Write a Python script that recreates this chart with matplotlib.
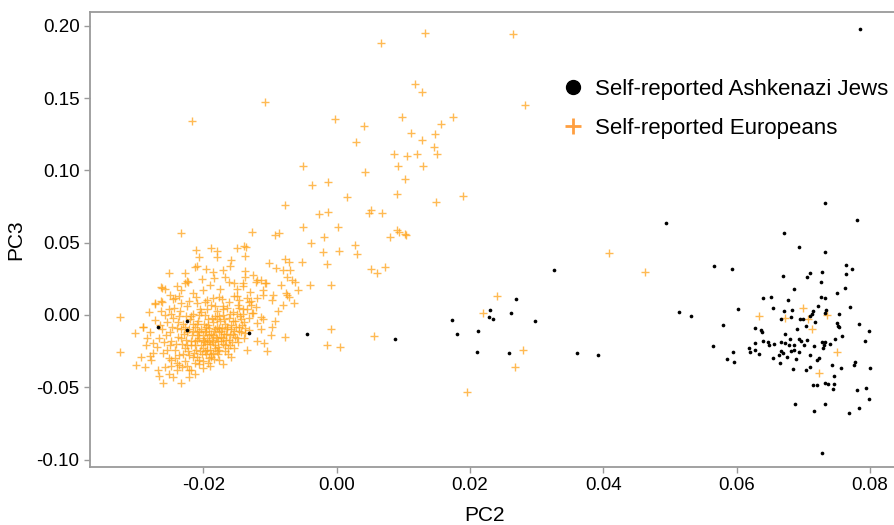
import numpy as np
import matplotlib
matplotlib.use('Agg')
import matplotlib.pyplot as plt
from matplotlib.lines import Line2D

plt.rcParams['font.family'] = ['Liberation Sans', 'DejaVu Sans']

# PC2, PC3 of self-reported Europeans
eur_points = [
    (0.0132, 0.195), (0.0067, 0.188), (0.0265, 0.194), (0.0117, 0.160), (0.0128, 0.154),
    (0.0282, 0.145), (-0.0107, 0.147), (-0.0217, 0.134), (-0.0002, 0.1355), (0.0041, 0.131),
    (0.0098, 0.137), (0.0174, 0.1367), (0.0157, 0.132), (0.0112, 0.1256), (0.0147, 0.125),
    (0.0128, 0.121), (0.0029, 0.1196), (0.0146, 0.1164), (0.0150, 0.111), (0.0086, 0.111),
    (0.0106, 0.110), (0.0120, 0.1115), (-0.0050, 0.103), (0.0092, 0.103), (0.0130, 0.103),
    (0.0042, 0.0987), (0.0103, 0.094), (-0.0037, 0.090), (-0.0013, 0.0918), (0.0090, 0.084),
    (0.0015, 0.0814), (0.0190, 0.0823), (0.0149, 0.078), (-0.0078, 0.076), (-0.0027, 0.0696),
    (-0.0013, 0.071), (0.0051, 0.0728), (0.0049, 0.0705), (0.0068, 0.0708), (-0.0050, 0.061),
    (0.0002, 0.061), (0.0090, 0.0588), (0.0104, 0.0555), (0.0093, 0.0574), (0.0408, 0.0427),
    (0.0463, 0.030), (0.0240, 0.0129), (0.0219, 0.0014), (0.0279, -0.024), (0.0267, -0.0357),
    (0.0195, -0.053), (-0.0078, -0.015), (-0.0009, -0.0099), (-0.0015, -0.0205), (0.0005, -0.0224),
    (0.0056, -0.0145), (-0.0087, 0.0565), (-0.0038, 0.050), (-0.0019, 0.0537), (-0.0020, 0.0434),
    (0.0003, 0.0445), (0.0028, 0.0484), (0.0031, 0.042), (0.0080, 0.0542), (0.0103, 0.0558),
    (-0.0052, 0.0364), (-0.0015, 0.035), (0.0052, 0.032), (0.0061, 0.0293), (0.0072, 0.0334),
    (-0.0040, 0.0205), (-0.0009, 0.0205), (-0.0058, 0.0173), (-0.0064, 0.0085), (-0.0081, 0.0069),
    (-0.0078, 0.0387), (-0.0072, 0.0367), (-0.0080, 0.031), (-0.0070, 0.031), (-0.0075, 0.0265),
    (-0.0067, 0.024), (-0.0063, 0.023), (-0.0083, 0.0207), (-0.0076, 0.0154), (-0.0072, 0.0127),
    (-0.0074, 0.0138),
    # left / middle part of the main cloud
    (-0.0233, 0.0569), (-0.0127, 0.0572), (-0.0093, 0.0553), (-0.0211, 0.045), (-0.0189, 0.046),
    (-0.0179, 0.0443), (-0.0149, 0.046), (-0.0139, 0.0477), (-0.0136, 0.0472), (-0.0138, 0.041),
    (-0.0158, 0.038), (-0.0207, 0.040), (-0.0213, 0.0334), (-0.0209, 0.0339), (-0.0196, 0.0316),
    (-0.0252, 0.0288), (-0.0225, 0.0235), (-0.0202, 0.0247), (-0.0184, 0.0254), (-0.0170, 0.0311),
    (-0.0137, 0.0306), (-0.0154, 0.0224), (-0.0141, 0.0219), (-0.0262, 0.0185), (-0.0233, 0.0173),
    (-0.0242, 0.0115), (-0.0273, 0.0085), (-0.0263, 0.0099), (-0.0325, -0.0012), (-0.0302, -0.0127),
    (-0.0291, -0.0085), (-0.0325, -0.0258), (-0.0301, -0.0346), (-0.0288, -0.0357), (-0.0294, -0.0288),
    (-0.0280, -0.0284), (-0.0276, -0.0196), (-0.0266, -0.0422), (-0.0260, -0.0472), (-0.0233, -0.0468),
    (-0.0251, -0.0408), (-0.0184, -0.0306), (-0.0171, -0.0339), (-0.0197, -0.0247), (-0.0154, -0.0226),
    (-0.0139, -0.0161), (-0.0131, -0.0104), (-0.0114, -0.0099), (-0.0109, -0.0192), (-0.0097, -0.0085),
    (-0.0099, -0.0138), (-0.0114, -0.0012), (-0.0111, -0.003), (-0.0126, 0.0012), (-0.0134, 0.004),
    (-0.0129, 0.0099), (-0.0121, 0.023), (-0.0113, 0.0242), (-0.0106, 0.0219), (-0.0101, 0.0357),
    (-0.0091, 0.0323), (-0.0097, 0.0104),
    (-0.0223, 0.023), (-0.0227, 0.0219), (-0.0162, 0.023), (-0.0137, 0.026), (-0.0119, 0.0242),
    (-0.0141, 0.020), (-0.0263, 0.0196), (-0.0258, 0.0178), (-0.0273, 0.0074), (-0.0262, 0.0092),
    (-0.0236, 0.0131), (-0.0246, 0.0109), (-0.0216, 0.015), (-0.0211, 0.0127), (-0.0194, 0.0104),
    (-0.0176, 0.0127), (-0.0154, 0.0131), (-0.0146, 0.0104), (-0.0131, 0.0092), (-0.0110, 0.0138),
    (-0.0107, 0.0219), (-0.0290, -0.0081), (-0.0273, -0.0035), (-0.0280, -0.0115), (-0.0286, -0.0207),
    (-0.0275, -0.0265), (-0.0268, -0.038), (-0.0248, -0.0311), (-0.0236, -0.0346), (-0.0221, -0.038),
    (-0.0222, -0.0431), (-0.0200, -0.0369), (-0.0137, -0.0127), (-0.0120, -0.0058), (-0.0127, 0.0016),
    (-0.0146, 0.0046), (-0.0121, 0.0057), (-0.0171, 0.0062),
    (-0.0180, 0.040), (-0.0160, 0.034), (-0.0125, 0.028), (-0.0110, 0.017), (-0.0095, 0.014),
    (-0.0088, 0.003), (-0.0093, -0.004), (-0.0105, -0.025), (-0.0120, -0.018), (-0.0135, -0.024),
    (-0.0190, 0.021), (-0.0175, 0.018), (-0.0168, 0.026), (-0.0150, 0.018), (-0.0130, 0.016),
    (-0.0120, 0.012), (-0.0200, 0.017), (-0.0186, 0.030), (-0.0228, 0.029), (-0.0240, 0.020),
    (-0.0250, 0.014), (-0.0282, 0.002), (-0.0285, -0.016), (-0.0279, -0.031), (-0.0258, -0.036),
    (-0.0245, -0.043), (-0.0212, -0.041), (-0.0190, -0.035), (-0.0177, -0.031), (-0.0158, -0.029),
    # dense core
    (-0.0255, -0.005), (-0.0250, -0.012), (-0.0248, -0.018), (-0.0245, -0.002), (-0.0243, -0.024),
    (-0.0240, -0.009), (-0.0238, -0.015), (-0.0236, -0.028), (-0.0235, 0.003), (-0.0232, -0.020),
    (-0.0230, -0.006), (-0.0229, -0.013), (-0.0227, -0.032), (-0.0226, -0.017), (-0.0224, 0.006),
    (-0.0223, -0.025), (-0.0221, -0.010), (-0.0220, -0.003), (-0.0219, -0.021), (-0.0217, -0.014),
    (-0.0216, -0.029), (-0.0215, 0.001), (-0.0213, -0.008), (-0.0212, -0.018), (-0.0211, -0.024),
    (-0.0209, -0.012), (-0.0208, -0.004), (-0.0207, -0.034), (-0.0206, -0.016), (-0.0205, 0.004),
    (-0.0204, -0.021), (-0.0203, -0.010), (-0.0202, -0.027), (-0.0200, -0.014), (-0.0199, -0.006),
    (-0.0198, -0.019), (-0.0197, 0.000), (-0.0196, -0.011), (-0.0195, -0.024), (-0.0194, -0.016),
    (-0.0193, -0.003), (-0.0192, -0.030), (-0.0191, -0.009), (-0.0190, -0.020), (-0.0189, -0.013),
    (-0.0188, 0.007), (-0.0187, -0.017), (-0.0186, -0.005), (-0.0185, -0.026), (-0.0184, -0.011),
    (-0.0183, -0.001), (-0.0182, -0.021), (-0.0181, -0.015), (-0.0180, -0.008), (-0.0179, 0.003),
    (-0.0178, -0.018), (-0.0177, -0.012), (-0.0176, -0.024), (-0.0175, -0.004), (-0.0174, -0.015),
    (-0.0172, -0.009), (-0.0171, 0.000), (-0.0170, -0.020), (-0.0169, -0.013), (-0.0168, -0.006),
    (-0.0166, -0.017), (-0.0165, 0.005), (-0.0164, -0.010), (-0.0163, -0.023), (-0.0161, -0.002),
    (-0.0160, -0.014), (-0.0158, -0.007), (-0.0157, -0.019), (-0.0155, 0.002), (-0.0154, -0.011),
    (-0.0152, -0.004), (-0.0150, -0.016), (-0.0148, 0.007), (-0.0147, -0.008), (-0.0145, -0.001),
    (-0.0143, -0.012), (-0.0141, 0.004), (-0.0139, -0.005),
    (-0.0262, -0.010), (-0.0266, -0.016), (-0.0270, -0.022), (-0.0260, -0.026), (-0.0258, 0.000),
    (-0.0264, 0.003), (-0.0252, -0.030), (-0.0248, -0.035), (-0.0240, -0.038), (-0.0232, -0.036),
    (-0.0218, -0.038), (-0.0212, -0.033), (-0.0200, -0.032), (-0.0188, -0.029), (-0.0178, -0.027),
    (-0.0168, -0.025), (-0.0160, -0.021), (-0.0148, -0.019), (-0.0137, -0.009), (-0.0132, -0.002),
    (-0.0128, 0.007), (-0.0135, 0.012), (-0.0150, 0.013), (-0.0162, 0.009), (-0.0172, 0.011),
    (-0.0185, 0.012), (-0.0198, 0.009), (-0.0210, 0.008), (-0.0222, 0.010), (-0.0233, 0.008),
    (-0.0244, 0.005), (-0.0252, 0.004), (-0.0250, -0.021), (-0.0256, -0.014), (-0.0234, -0.010),
    (-0.0226, -0.001), (-0.0214, -0.026), (-0.0201, -0.023), (-0.0190, -0.024), (-0.0180, -0.003),
    (-0.0173, -0.018), (-0.0156, -0.013), (-0.0144, -0.003), (-0.0196, -0.008), (-0.0206, -0.011),
    (-0.0216, -0.006), (-0.0186, -0.014), (-0.0176, -0.009), (-0.0228, -0.008), (-0.0238, -0.005),
    (-0.0209, -0.017), (-0.0199, -0.017), (-0.0191, -0.018), (-0.0218, -0.018), (-0.0224, -0.021),
    (-0.0194, 0.004), (-0.0206, 0.000), (-0.0183, 0.006), (-0.0170, 0.004), (-0.0160, 0.001),
    (-0.0242, -0.030), (-0.0230, -0.027), (-0.0210, -0.029), (-0.0196, -0.027), (-0.0182, -0.023),
    (-0.0166, -0.013),
    (-0.0247, -0.008), (-0.0241, -0.020), (-0.0237, -0.001), (-0.0233, -0.016), (-0.0228, -0.023),
    (-0.0225, -0.012), (-0.0222, -0.028), (-0.0219, -0.001), (-0.0215, -0.011), (-0.0213, -0.021),
    (-0.0210, -0.006), (-0.0208, -0.014), (-0.0205, -0.025), (-0.0203, 0.002), (-0.0201, -0.018),
    (-0.0198, -0.012), (-0.0195, -0.020), (-0.0193, -0.007), (-0.0191, -0.014), (-0.0189, -0.027),
    (-0.0187, -0.002), (-0.0185, -0.019), (-0.0182, -0.010), (-0.0180, -0.016), (-0.0178, -0.022),
    (-0.0176, -0.001), (-0.0174, -0.011), (-0.0171, -0.016), (-0.0169, -0.003), (-0.0167, -0.021),
    (-0.0165, -0.008), (-0.0162, -0.017), (-0.0159, -0.010), (-0.0156, -0.004), (-0.0153, -0.015),
    (-0.0151, -0.008), (-0.0149, 0.001), (-0.0146, -0.011), (-0.0142, -0.007), (-0.0140, 0.001),
    (-0.0254, -0.024), (-0.0259, -0.019), (-0.0265, -0.007), (-0.0249, 0.001), (-0.0239, -0.033),
    (-0.0224, -0.035), (-0.0206, -0.031), (-0.0193, -0.033), (-0.0179, -0.025), (-0.0163, -0.027),
    # among the Ashkenazi cloud
    (0.0634, -0.0005), (0.0673, -0.0018), (0.0700, 0.005), (0.0707, -0.003), (0.0735, -0.0002),
    (0.0713, -0.0099), (0.0751, -0.0258), (0.0723, -0.0401),
]

# PC2, PC3 of self-reported Ashkenazi Jews
ashk_points = [
    (-0.0268, -0.0085), (-0.0225, -0.0044), (-0.0224, -0.0104), (-0.0132, -0.0127), (-0.0044, -0.0131),
    (0.0088, -0.0168), (0.0326, 0.0313), (0.0269, 0.0109), (0.0230, 0.0037), (0.0229, -0.0012),
    (0.0234, -0.003), (0.0262, 0.0012), (0.0173, -0.0032), (0.0298, -0.0044), (0.0180, -0.013),
    (0.0212, -0.011), (0.0211, -0.0258), (0.0258, -0.0265), (0.0361, -0.0263), (0.0392, -0.0275),
    (0.0494, 0.0638), (0.0732, 0.0777), (0.0780, 0.0657), (0.0785, 0.1978), (0.0728, -0.0954),
    (0.0513, 0.0019),
    (0.0671, 0.0567), (0.0694, 0.047), (0.0733, 0.0438), (0.0566, 0.0339), (0.0593, 0.032),
    (0.0764, 0.0348), (0.0773, 0.032), (0.0669, 0.0272), (0.0710, 0.0288), (0.0706, 0.0265),
    (0.0728, 0.030), (0.0764, 0.0284), (0.0726, 0.023), (0.0686, 0.0178), (0.0762, 0.0189),
    (0.0750, 0.015), (0.0639, 0.0115), (0.0651, 0.0124), (0.0677, 0.0106), (0.0727, 0.0124),
    (0.0732, 0.0115), (0.0602, 0.0044), (0.0655, 0.0048), (0.0671, 0.0028), (0.0683, 0.0032),
    (0.0715, 0.0028), (0.0722, 0.006), (0.0734, 0.0035), (0.0732, 0.0012), (0.0770, 0.0055),
    (0.0754, 0.0005), (0.0532, -0.0009), (0.0666, -0.003), (0.0682, -0.0012), (0.0695, -0.003),
    (0.0700, -0.0028), (0.0710, -0.0005), (0.0713, 0.0009), (0.0718, -0.0046), (0.0750, -0.0053),
    (0.0752, -0.0074), (0.0753, -0.0081), (0.0580, -0.0067), (0.0704, -0.0074), (0.0691, -0.0099),
    (0.0784, -0.0062), (0.0799, -0.0109), (0.0627, -0.0092), (0.0637, -0.0106), (0.0638, -0.0115),
    (0.0673, -0.0134), (0.0758, -0.0145), (0.0748, -0.0166), (0.0694, -0.0168), (0.0697, -0.0182),
    (0.0680, -0.0166), (0.0705, -0.0175), (0.0639, -0.018), (0.0647, -0.0189), (0.0627, -0.0194),
    (0.0667, -0.0189), (0.0672, -0.0191), (0.0656, -0.0201), (0.0649, -0.0207), (0.0678, -0.0207),
    (0.0728, -0.0185), (0.0732, -0.0189), (0.0740, -0.0198), (0.0792, -0.0182), (0.0716, -0.0212),
    (0.0731, -0.0207), (0.0729, -0.023), (0.0701, -0.0207), (0.0686, -0.0207), (0.0694, -0.0253),
    (0.0564, -0.0217), (0.0618, -0.0226), (0.0620, -0.0256), (0.0627, -0.0244), (0.0633, -0.027),
    (0.0594, -0.0253), (0.0666, -0.0247), (0.0670, -0.0265), (0.0682, -0.0249), (0.0686, -0.0242),
    (0.0664, -0.0277), (0.0654, -0.0295), (0.0675, -0.0293), (0.0689, -0.0307), (0.0710, -0.0277),
    (0.0723, -0.0295), (0.0721, -0.0311), (0.0586, -0.0304), (0.0596, -0.0327), (0.0665, -0.033),
    (0.0743, -0.0348), (0.0756, -0.0367), (0.0777, -0.0323), (0.0776, -0.0346), (0.0800, -0.0367),
    (0.0684, -0.0376), (0.0704, -0.0383), (0.0710, -0.036), (0.0746, -0.042), (0.0733, -0.0468),
    (0.0737, -0.048), (0.0714, -0.0482), (0.0720, -0.0484), (0.0746, -0.0477), (0.0745, -0.0514),
    (0.0781, -0.0521), (0.0794, -0.0507), (0.0798, -0.0579), (0.0688, -0.0613), (0.0733, -0.0613),
    (0.0716, -0.0664), (0.0783, -0.0643), (0.0769, -0.068),
]

x_ticks = [-0.02, 0.00, 0.02, 0.04, 0.06, 0.08]
y_ticks = [-0.10, -0.05, 0.00, 0.05, 0.10, 0.15, 0.20]

eur = np.array(eur_points)
ashk = np.array(ashk_points)

fig = plt.figure(figsize=(8.95, 5.25), dpi=100)
ax = fig.add_axes([90 / 895, 58 / 525, 810 / 895, 455 / 525])

orange = '#FFA31A'
ax.scatter(eur[:, 0], eur[:, 1], marker='+', s=40, linewidths=1.0, color=orange, alpha=0.75, zorder=2)
ax.scatter(ashk[:, 0], ashk[:, 1], marker='o', s=7, color='black', linewidths=0, zorder=3)

ax.set_xlim(-0.037, 0.0845)
ax.set_ylim(-0.1051, 0.2095)
ax.set_xticks(x_ticks)
ax.set_xticklabels(['%.2f' % v for v in x_ticks])
ax.set_yticks(y_ticks)
ax.set_yticklabels(['%.2f' % v for v in y_ticks])

for side in ['left', 'bottom', 'top']:
    ax.spines[side].set_color('#9a9a9a')
    ax.spines[side].set_linewidth(1.3)
ax.spines['right'].set_visible(False)
ax.tick_params(colors='#9a9a9a', labelcolor='black', labelsize=13.5, length=4, width=1)

ax.set_xlabel('PC2', fontsize=15, labelpad=10)
ax.set_ylabel('PC3', fontsize=15, labelpad=8)
ax.xaxis.set_label_coords((485 - 90) / 810, -0.085)

handles = [
    Line2D([], [], marker='o', linestyle='none', color='black', markersize=10),
    Line2D([], [], marker='+', linestyle='none', color='#FF9F40', markersize=12, markeredgewidth=2),
]
ax.legend(handles, ['Self-reported Ashkenazi Jews', 'Self-reported Europeans'],
          loc='upper left', bbox_to_anchor=(562 / 895, 1 - 79 / 525), bbox_transform=fig.transFigure,
          frameon=False, fontsize=16, handlelength=1.0, handletextpad=0.5, labelspacing=0.8,
          borderpad=0, borderaxespad=0)

fig.savefig('out.png', dpi=100)
